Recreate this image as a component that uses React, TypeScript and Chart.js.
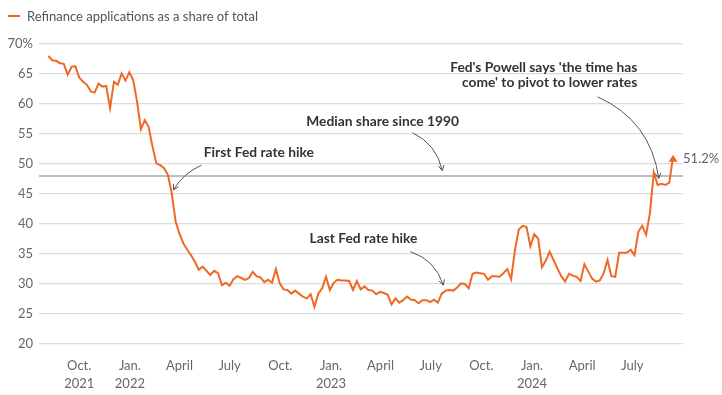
import { useEffect, useRef } from "react";
import { Chart, registerables } from "chart.js";

Chart.register(...registerables);

// ---------- DATA ----------
const LAST_WEEK = "2024-09-13"; // weekly MBA survey, last observation
const refiShare: number[] = [
  68.0, 67.3, 67.2, 66.8, 66.7, 64.9, 66.2, 66.3, 64.4, 63.7,
  63.2, 62.1, 61.9, 63.4, 62.9, 63.0, 59.3, 63.7, 63.2, 65.1,
  63.9, 65.3, 64.0, 60.4, 55.8, 57.3, 56.2, 52.9, 50.1, 49.8,
  49.3, 48.2, 45.1, 40.4, 38.4, 36.8, 35.7, 34.8, 33.7, 32.4,
  32.9, 32.2, 31.5, 32.2, 31.8, 29.8, 30.2, 29.7, 30.8, 31.3,
  31.0, 30.7, 31.0, 32.0, 31.3, 31.1, 30.3, 30.7, 30.2, 32.5,
  30.1, 29.1, 29.0, 28.4, 28.9, 28.4, 27.9, 27.6, 28.3, 26.2,
  28.4, 29.3, 31.2, 29.0, 30.2, 30.7, 30.6, 30.6, 30.5, 29.0,
  30.5, 29.1, 29.6, 29.0, 28.9, 28.3, 28.7, 28.5, 28.2, 26.6,
  27.6, 26.9, 27.3, 27.9, 27.4, 27.3, 26.8, 27.3, 27.3, 27.0,
  27.4, 26.9, 28.4, 28.9, 29.0, 28.9, 29.4, 30.1, 30.0, 29.3,
  31.7, 31.9, 31.8, 31.7, 30.7, 31.3, 31.3, 31.2, 31.8, 32.5,
  30.8, 35.7, 39.1, 39.7, 39.5, 36.3, 38.3, 37.6, 32.8, 33.9,
  35.4, 34.0, 32.6, 31.3, 30.4, 31.7, 31.4, 31.2, 30.5, 33.3,
  32.1, 30.9, 30.4, 30.6, 31.8, 34.0, 31.3, 31.2, 35.2, 35.2,
  35.2, 35.7, 34.8, 38.7, 39.7, 38.2, 41.8, 48.6, 46.5, 46.7,
  46.5, 46.9, 51.2,
];

const tickDates = [
  "2021-10-01", "2022-01-01", "2022-04-01", "2022-07-01",
  "2022-10-01", "2023-01-01", "2023-04-01", "2023-07-01",
  "2023-10-01", "2024-01-01", "2024-04-01", "2024-07-01",
];
const tickLabels: (string | string[])[] = [
  ["Oct.", "2021"], ["Jan.", "2022"], "April", "July",
  "Oct.", ["Jan.", "2023"], "April", "July",
  "Oct.", ["Jan.", "2024"], "April", "July",
];
const xMinDate = "2021-07-20";
const xMaxDate = "2024-10-01";
const yMin = 20;
const yMax = 70;
const yStep = 5;
const medianShare = 48;
const latestLabel = "51.2%";
const legendLabel = "Refinance applications as a share of total";

type Ann = {
  lines: string[];
  at: [string, number];
  align: CanvasTextAlign;
  from: [string, number];
  to: [string, number];
  bend: number;
};
const annotations: Ann[] = [
  { lines: ["First Fed rate hike"], at: ["2022-05-15", 51.9], align: "left", from: ["2022-05-11", 49.8], to: ["2022-03-21", 45.7], bend: -3 },
  { lines: ["Median share since 1990"], at: ["2022-11-17", 57.05], align: "left", from: ["2023-05-29", 55.2], to: ["2023-07-22", 48.9], bend: 6 },
  { lines: ["Last Fed rate hike"], at: ["2022-11-23", 37.5], align: "left", from: ["2023-05-25", 35.4], to: ["2023-07-24", 29.8], bend: 6 },
  { lines: ["Fed's Powell says 'the time has", "come' to pivot to lower rates"], at: ["2024-07-10", 66.1], align: "right", from: ["2024-04-29", 61.2], to: ["2024-08-18", 47.6], bend: 14 },
];

// ---------- HELPERS ----------
const DAY = 86400000;
const toDay = (s: string) => Date.parse(s + "T00:00:00Z") / DAY;
const FONT = "Lato, 'Open Sans', sans-serif";
const ORANGE = "#EE6A24";

const overlay = {
  id: "overlay",
  beforeDatasetsDraw(chart: any) {
    const { ctx, chartArea, scales } = chart;
    const py = scales.y.getPixelForValue(medianShare);
    ctx.save();
    ctx.strokeStyle = "#a9a9a9";
    ctx.lineWidth = 1.5;
    ctx.beginPath();
    ctx.moveTo(chartArea.left, py);
    ctx.lineTo(chartArea.right, py);
    ctx.stroke();
    ctx.restore();
  },
  afterDatasetsDraw(chart: any) {
    const { ctx, scales } = chart;
    const xs = scales.x;
    const ys = scales.y;
    ctx.save();

    // legend
    ctx.strokeStyle = ORANGE;
    ctx.lineWidth = 2;
    ctx.beginPath();
    ctx.moveTo(8, 16);
    ctx.lineTo(20, 16);
    ctx.stroke();
    ctx.fillStyle = "#555";
    ctx.font = `13px ${FONT}`;
    ctx.textAlign = "left";
    ctx.textBaseline = "middle";
    ctx.fillText(legendLabel, 27, 16.5);

    // end arrow + latest label
    const meta = chart.getDatasetMeta(0);
    const last = meta.data[meta.data.length - 1];
    const px = last.x;
    const py = last.y;
    ctx.fillStyle = ORANGE;
    ctx.beginPath();
    ctx.moveTo(px, py - 2);
    ctx.lineTo(px - 4.5, py + 5);
    ctx.lineTo(px + 4.5, py + 5);
    ctx.closePath();
    ctx.fill();
    ctx.fillStyle = "#666";
    ctx.font = `13px ${FONT}`;
    ctx.textAlign = "left";
    ctx.fillText(latestLabel, px + 10, py + 2);

    // annotations
    for (const a of annotations) {
      const tx = xs.getPixelForValue(toDay(a.at[0]));
      const ty = ys.getPixelForValue(a.at[1]);
      ctx.fillStyle = "#333";
      ctx.font = `bold 13.8px ${FONT}`;
      ctx.textAlign = a.align;
      ctx.textBaseline = "middle";
      a.lines.forEach((l, i) => ctx.fillText(l, tx, ty + i * 15));

      const sx = xs.getPixelForValue(toDay(a.from[0]));
      const sy = ys.getPixelForValue(a.from[1]);
      const ex = xs.getPixelForValue(toDay(a.to[0]));
      const ey = ys.getPixelForValue(a.to[1]);
      const dx = ex - sx;
      const dy = ey - sy;
      const len = Math.hypot(dx, dy);
      const nx = dy / len;
      const ny = -dx / len;
      const cx = (sx + ex) / 2 + nx * a.bend * 2;
      const cy = (sy + ey) / 2 + ny * a.bend * 2;
      ctx.strokeStyle = "#555";
      ctx.lineWidth = 1;
      ctx.beginPath();
      ctx.moveTo(sx, sy);
      ctx.quadraticCurveTo(cx, cy, ex, ey);
      ctx.stroke();
      const ang = Math.atan2(ey - cy, ex - cx);
      const h = 6;
      ctx.beginPath();
      ctx.moveTo(ex - h * Math.cos(ang - 0.5), ey - h * Math.sin(ang - 0.5));
      ctx.lineTo(ex, ey);
      ctx.lineTo(ex - h * Math.cos(ang + 0.5), ey - h * Math.sin(ang + 0.5));
      ctx.stroke();
    }
    ctx.restore();
  },
};

export default function App() {
  const ref = useRef<HTMLCanvasElement | null>(null);
  useEffect(() => {
    document.body.style.margin = "0";
    const canvas = ref.current;
    if (!canvas) return;
    const lastDay = toDay(LAST_WEEK);
    const n = refiShare.length;
    const points = refiShare.map((v, i) => ({ x: lastDay - (n - 1 - i) * 7, y: v }));
    const chart = new Chart(canvas, {
      type: "line",
      data: {
        datasets: [
          {
            label: legendLabel,
            data: points,
            borderColor: ORANGE,
            borderWidth: 2,
            pointRadius: 0,
            tension: 0,
            fill: false,
          },
        ],
      },
      options: {
        responsive: false,
        animation: false,
        layout: { padding: { top: 44, right: 39, left: 0, bottom: 0 } },
        plugins: { legend: { display: false }, tooltip: { enabled: false } },
        scales: {
          x: {
            type: "linear",
            min: toDay(xMinDate),
            max: toDay(xMaxDate),
            grid: { display: false },
            border: { display: false },
            afterBuildTicks: (axis: any) => {
              axis.ticks = tickDates.map((d) => ({ value: toDay(d) }));
            },
            afterFit: (axis: any) => {
              axis.height = 51;
            },
            ticks: {
              autoSkip: false,
              maxRotation: 0,
              padding: 5,
              color: "#666",
              font: { family: FONT, size: 13, lineHeight: 1.385 },
              callback: (_v: any, i: number) => tickLabels[i],
            },
          },
          y: {
            min: yMin,
            max: yMax,
            grid: { color: "#dcdcdc", lineWidth: 1.2, drawTicks: false },
            border: { display: false },
            afterFit: (axis: any) => {
              axis.width = 39;
            },
            ticks: {
              stepSize: yStep,
              padding: 6,
              color: "#666",
              font: { family: FONT, size: 13 },
              callback: (v: any) => (v === yMax ? `${v}%` : `${v}`),
            },
          },
        },
      },
      plugins: [overlay],
    });
    return () => chart.destroy();
  }, []);
  return <canvas ref={ref} width={722} height={395} style={{ display: "block" }} />;
}
